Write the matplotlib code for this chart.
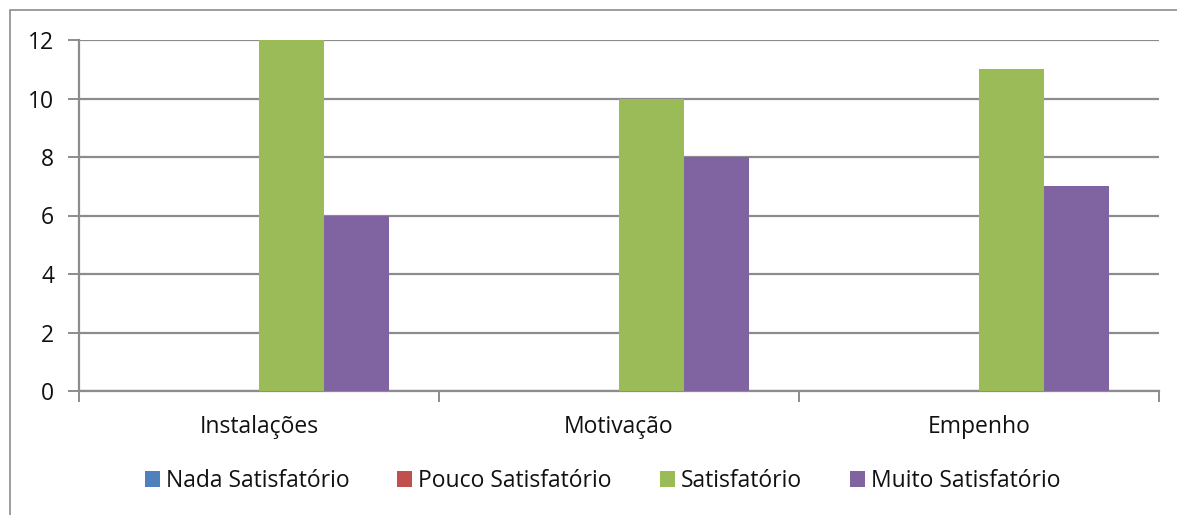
import matplotlib
matplotlib.use("Agg")
import matplotlib.pyplot as plt
from matplotlib.patches import Rectangle
import numpy as np

categories = ["Instalações", "Motivação", "Empenho"]
series_names = ["Nada Satisfatório", "Pouco Satisfatório", "Satisfatório", "Muito Satisfatório"]
nada = [0, 0, 0]
pouco = [0, 0, 0]
satisfatorio = [12, 10, 11]
muito = [6, 8, 7]
colors = ["#4F81BD", "#C0504D", "#9BBB59", "#8064A2"]
yticks = [0, 2, 4, 6, 8, 10, 12]

plt.rcParams['font.family'] = ['Open Sans', 'DejaVu Sans']
FS = 16.5

fig = plt.figure(figsize=(11.77, 5.15), dpi=100)
ax = fig.add_axes([79/1177, 1-391/515, (1159-79)/1177, (391-40)/515])

# outer border
fig.patches.append(Rectangle((10/1177, -0.1), 1.2, 1-10/515+0.1, transform=fig.transFigure,
                             fill=False, edgecolor="#8c8c8c", linewidth=1.2, zorder=0))

x = np.arange(len(categories))
w = 0.18
data = [nada, pouco, satisfatorio, muito]
for i, (vals, name, c) in enumerate(zip(data, series_names, colors)):
    ax.bar(x + (i - 1.5) * w, vals, width=w, color=c, label=name, zorder=3, linewidth=0)

ax.set_xlim(-0.5, 2.5)
ax.set_ylim(0, 12)
ax.set_yticks(yticks)
ax.set_yticklabels([str(t) for t in yticks], fontsize=FS, color="#111111")
ax.yaxis.grid(True, color="#8c8c8c", linewidth=1.6, zorder=0)
ax.set_axisbelow(True)
ax.tick_params(axis='y', length=8, width=1.4, color="#8c8c8c", pad=10)
ax.set_xticks(x)
ax.set_xticklabels(categories, fontsize=FS, color="#111111")
ax.set_xticks([-0.5, 0.5, 1.5, 2.5], minor=True)
ax.tick_params(axis='x', which='major', length=0, pad=17)
ax.tick_params(axis='x', which='minor', length=8, width=1.4, color="#8c8c8c")
for s in ["top", "right"]:
    ax.spines[s].set_visible(False)
for s in ["left", "bottom"]:
    ax.spines[s].set_color("#8c8c8c")
    ax.spines[s].set_linewidth(1.6)

leg = fig.legend(loc="center", bbox_to_anchor=(0.512, 1-481/515), ncol=4, frameon=False,
                 fontsize=FS, handlelength=0.65, handleheight=0.65, handletextpad=0.26,
                 columnspacing=2.1, labelcolor="#111111")

fig.savefig("out.png", dpi=100)
